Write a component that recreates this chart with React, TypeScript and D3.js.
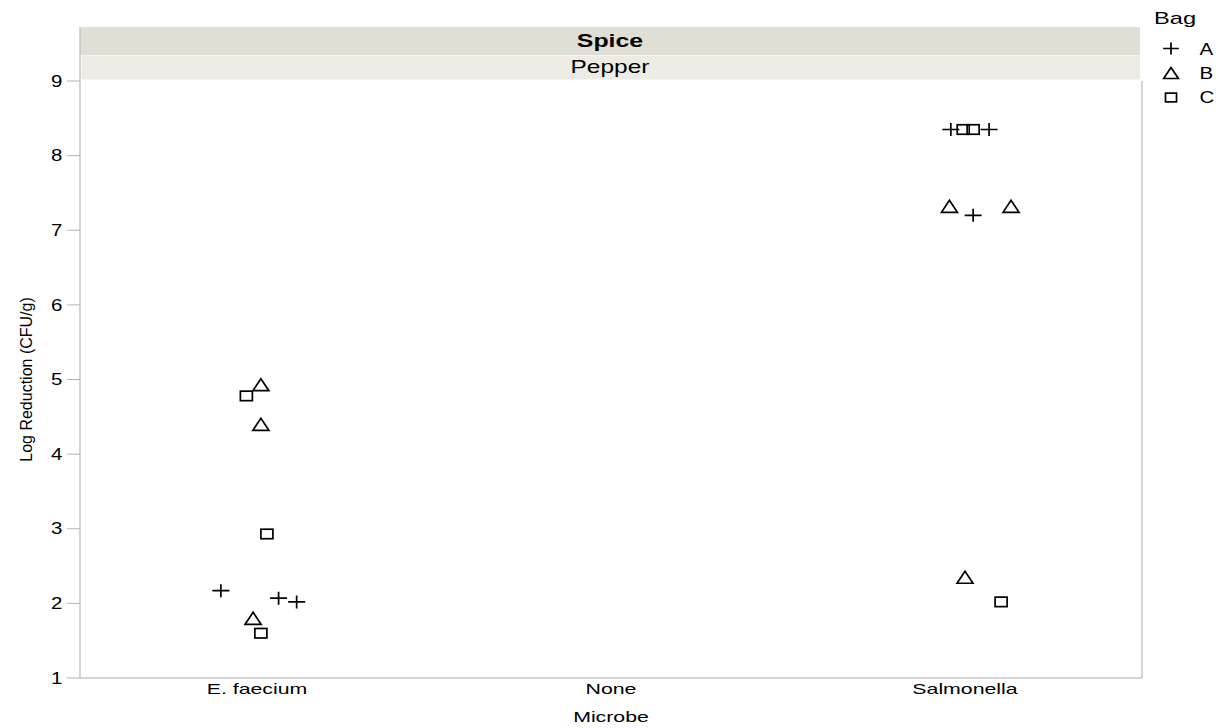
import React from "react";
import * as d3 from "d3";

// Log reduction of microbes on pepper, by bag
const microbes = ["E. faecium", "None", "Salmonella"];
const bags = ["A", "B", "C"];
const yTicks = [1, 2, 3, 4, 5, 6, 7, 8, 9];

// each point: microbe, bag, log reduction, horizontal jitter (fraction of category band)
const pointMicrobe = [
  "E. faecium", "E. faecium", "E. faecium", "E. faecium", "E. faecium",
  "E. faecium", "E. faecium", "E. faecium", "E. faecium",
  "Salmonella", "Salmonella", "Salmonella", "Salmonella", "Salmonella",
  "Salmonella", "Salmonella", "Salmonella", "Salmonella",
];
const pointBag = [
  "B", "C", "B", "C", "A", "A", "A", "B", "C",
  "A", "C", "C", "A", "B", "A", "B", "B", "C",
];
const pointValue = [
  4.93, 4.78, 4.40, 2.93, 2.17, 2.07, 2.02, 1.80, 1.60,
  8.35, 8.35, 8.35, 8.35, 7.32, 7.20, 7.32, 2.35, 2.02,
];
const pointJitter = [
  0.011, -0.030, 0.011, 0.028, -0.102, 0.061, 0.112, -0.011, 0.011,
  -0.040, -0.005, 0.023, 0.068, -0.044, 0.023, 0.130, 0.0, 0.102,
];

const W = 1223;
const H = 728;
const left = 80;
const right = 1142;
const top = 81;
const bottom = 678;
const FONT = "'Liberation Sans', Arial, Helvetica, sans-serif";

// text widened horizontally
function WideText({
  x,
  y,
  sx,
  size,
  anchor = "start",
  bold = false,
  children,
}: {
  x: number;
  y: number;
  sx: number;
  size: number;
  anchor?: string;
  bold?: boolean;
  children: React.ReactNode;
}) {
  return (
    <text
      transform={`translate(${x},${y}) scale(${sx},1)`}
      textAnchor={anchor}
      fontSize={size}
      fontWeight={bold ? "bold" : "normal"}
      fill="#000"
    >
      {children}
    </text>
  );
}

function Marker({
  bag,
  x,
  y,
  k = 1,
}: {
  bag: string;
  x: number;
  y: number;
  k?: number;
}) {
  const common = { fill: "none", stroke: "#000", strokeWidth: 1.7 };
  if (bag === "A") {
    const hw = 8.5 * k;
    const hh = 6.5 * k;
    return <path d={`M${x - hw},${y}H${x + hw}M${x},${y - hh}V${y + hh}`} {...common} />;
  }
  if (bag === "B") {
    const hw = 8 * k;
    const hh = 6 * k;
    return (
      <path
        d={`M${x - hw},${y + hh}L${x},${y - hh}L${x + hw},${y + hh}Z`}
        {...common}
        strokeLinejoin="miter"
      />
    );
  }
  const w = 12 * k;
  const h = 9.5 * k;
  return <rect x={x - w / 2} y={y - h / 2} width={w} height={h} {...common} />;
}

export default function App() {
  const x = d3.scaleBand<string>().domain(microbes).range([left, right]);
  const y = d3.scaleLinear().domain([1, 9]).range([bottom, top]);

  const points = pointValue.map((v, i) => ({
    microbe: pointMicrobe[i],
    bag: pointBag[i],
    value: v,
    jitter: pointJitter[i],
  }));

  const headerMid = (left + 1140) / 2;

  return (
    <svg
      width={W}
      height={H}
      style={{ position: "absolute", left: 0, top: 0, background: "#fff" }}
      fontFamily={FONT}
    >
      {/* header bands */}
      <rect x={left} y={27} width={1140 - left} height={28} fill="#e0dfd5" />
      <rect x={left + 1.5} y={55.5} width={1140 - left - 1.5} height={24} fill="#ecebe4" />
      <WideText x={headerMid} y={46.5} sx={1.42} size={17.5} anchor="middle" bold>
        Spice
      </WideText>
      <WideText x={headerMid} y={73} sx={1.4} size={17.5} anchor="middle">
        Pepper
      </WideText>

      {/* frame */}
      <line x1={left} x2={left} y1={27} y2={bottom} stroke="#c6c6c6" strokeWidth={1.5} />
      <line x1={right} x2={right} y1={top} y2={bottom} stroke="#c6c6c6" strokeWidth={1.5} />
      <line x1={left} x2={right} y1={bottom} y2={bottom} stroke="#c6c6c6" strokeWidth={1.5} />

      {/* y axis */}
      {yTicks.map((t) => (
        <g key={t}>
          <line x1={67} x2={left} y1={y(t)} y2={y(t)} stroke="#b4b4b4" strokeWidth={1} />
          <WideText x={62.5} y={y(t) + 5.7} sx={1.28} size={16} anchor="end">
            {t}
          </WideText>
        </g>
      ))}
      <text
        transform={`translate(31.5,${(top + bottom) / 2}) rotate(-90)`}
        textAnchor="middle"
        fontSize={16}
        fill="#000"
      >
        Log Reduction (CFU/g)
      </text>

      {/* x axis */}
      {microbes.map((m) => (
        <WideText
          key={m}
          x={(x(m) as number) + x.bandwidth() / 2}
          y={693.5}
          sx={1.42}
          size={15}
          anchor="middle"
        >
          {m}
        </WideText>
      ))}
      <WideText x={(left + right) / 2} y={721.5} sx={1.42} size={15} anchor="middle">
        Microbe
      </WideText>

      {/* points */}
      {points.map((p, i) => (
        <Marker
          key={i}
          bag={p.bag}
          x={(x(p.microbe) as number) + x.bandwidth() * (0.5 + p.jitter)}
          y={y(p.value)}
        />
      ))}

      {/* legend */}
      <WideText x={1154} y={24} sx={1.39} size={17}>
        Bag
      </WideText>
      {bags.map((b, i) => (
        <g key={b}>
          <Marker bag={b} x={1171} y={48.5 + i * 24.5} k={0.92} />
          <WideText x={1199.5} y={55 + i * 24.2} sx={1.28} size={16}>
            {b}
          </WideText>
        </g>
      ))}
    </svg>
  );
}
